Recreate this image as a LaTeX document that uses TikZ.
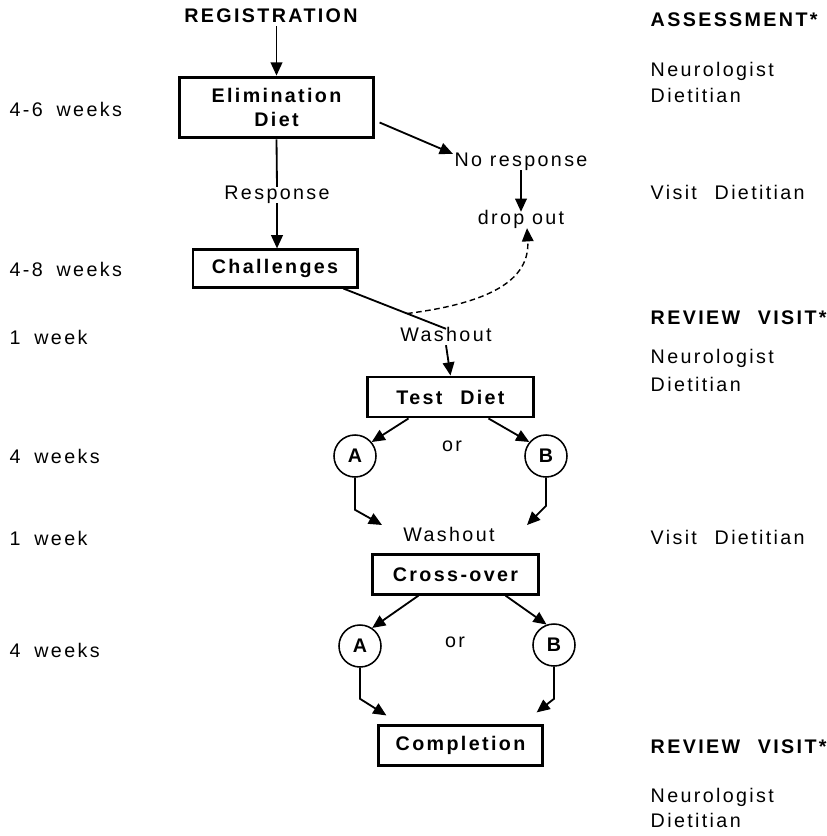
\documentclass[tikz,border=0pt]{standalone}
\usepackage{fontspec}
\setmainfont{Liberation Sans}[LetterSpace=12]
\usetikzlibrary{arrows.meta, positioning, calc}
\newcommand{\figfont}{\fontsize{14}{16.5}\selectfont}
\newcommand{\wgap}{\hspace{0.7em}}
\newcommand{\bgap}{\hspace{0.9em}}

\begin{document}
\begin{tikzpicture}[
        x=0.025cm, y=-0.025cm,
        every node/.style={font=\figfont},
        box/.style={rectangle, draw, line width=2.1pt, inner sep=0pt, align=center, font=\figfont\bfseries},
        arm/.style={circle, draw, line width=1.1pt, minimum size=1.05cm, inner sep=0pt, font=\figfont\bfseries},
        lbl/.style={inner sep=1pt, text height=1.5ex, text depth=.25ex},
        head/.style={lbl, font=\figfont\bfseries},
        side/.style={lbl, anchor=west},
        arr/.style={-{Triangle[length=0.33cm, width=0.29cm]}, line width=1.3pt},
        link/.style={line width=1.3pt}
    ]
        \useasboundingbox (0,0) rectangle (827,836);

        % main flow
        \node[head] (reg) at (271,18) {REGISTRATION};
        \node[box, minimum width=4.83cm, minimum height=1.52cm] (elim) at (276.5,107.5) {Elimination\\Diet};
        \node[lbl] (resp) at (277,195) {Response};
        \node[box, minimum width=4.1cm, minimum height=0.93cm] (chal) at (275,268.5) {Challenges};
        \node[lbl] (noresp) at (521,162) {No response};
        \node[lbl] (drop) at (521,220) {drop out};
        \node[lbl] (wash1) at (446,337) {Washout};
        \node[box, minimum width=4.13cm, minimum height=1cm] (test) at (450.5,397) {Test\bgap Diet};
        \node[arm] (a1) at (355,456) {A};
        \node[arm] (b1) at (546,456) {B};
        \node[lbl] (or1) at (452,447) {or};
        \node[lbl] (wash2) at (449,537) {Washout};
        \node[box, minimum width=4.13cm, minimum height=0.98cm] (cross) at (455.5,574.5) {Cross-over};
        \node[arm] (a2) at (360,646) {A};
        \node[arm] (b2) at (554,645) {B};
        \node[lbl] (or2) at (455,643) {or};
        \node[box, minimum width=4.08cm, minimum height=0.98cm] (comp) at (460.5,745.5) {Completion};

        \draw[arr] (reg.south -| elim.north) -- (elim.north);
        \draw[link] (elim.south) -- (resp.north);
        \draw[arr] (resp.south) -- (resp.south |- chal.north);
        \draw[arr] ($(elim.east)+(5,15)$) -- (noresp.north west);
        \draw[arr] (noresp.south) -- (drop.north);
        \draw[link] ($(chal.south east)+(-15,0)$) -- coordinate[pos=0.62] (split) (wash1.north);
        \draw[arr, line width=1pt, dash pattern=on 4pt off 2.5pt] (split) .. controls (490,303) and (530,280) .. ($(drop.south)+(6,0)$);
        \draw[arr] (wash1.south) -- (test.north);
        \draw[arr] ($(test.south)+(-42,0)$) -- (a1.40);
        \draw[arr] ($(test.south)+(38,0)$) -- (b1.140);
        \draw[arr] (a1.south) -- ++(0,32) -- ($(wash2)+(-67,-12)$);
        \draw[arr] (b1.south) -- ++(0,28) -- ($(wash2)+(78,-12)$);
        \draw[arr] ($(cross.south)+(-37,0)$) -- (a2.56);
        \draw[arr] ($(cross.south)+(50,0)$) -- (b2.110);
        \draw[arr] (a2.south) -- ++(0,31) -- ($(comp.north west)+(9,-9)$);
        \draw[arr] (b2.south) -- ++(0,32) -- ($(comp.north east)+(-7,-12)$);

        % durations
        \node[side] (dur1) at (8,112) {4-6\wgap weeks};
        \node[side] (dur2) at (8,272) {4-8\wgap weeks};
        \node[side] (dur3) at (8,340) {1\wgap week};
        \node[side] (dur4) at (8,459) {4\wgap weeks};
        \node[side] (dur5) at (8,541) {1\wgap week};
        \node[side] (dur6) at (8,653) {4\wgap weeks};

        % visits
        \node[side, font=\figfont\bfseries] (assess) at (649,22) {ASSESSMENT*};
        \node[side] (assessN) at (649,72) {Neurologist};
        \node[side] (assessD) at (649,98) {Dietitian};
        \node[side] (visit1) at (649,195) {Visit\bgap Dietitian};
        \node[side, font=\figfont\bfseries] (review1) at (649,320) {REVIEW\bgap VISIT*};
        \node[side] (review1N) at (649,359) {Neurologist};
        \node[side] (review1D) at (649,387) {Dietitian};
        \node[side] (visit2) at (649,540) {Visit\bgap Dietitian};
        \node[side, font=\figfont\bfseries] (review2) at (649,749) {REVIEW\bgap VISIT*};
        \node[side] (review2N) at (649,798) {Neurologist};
        \node[side] (review2D) at (649,823) {Dietitian};
    \end{tikzpicture}
\end{document}
